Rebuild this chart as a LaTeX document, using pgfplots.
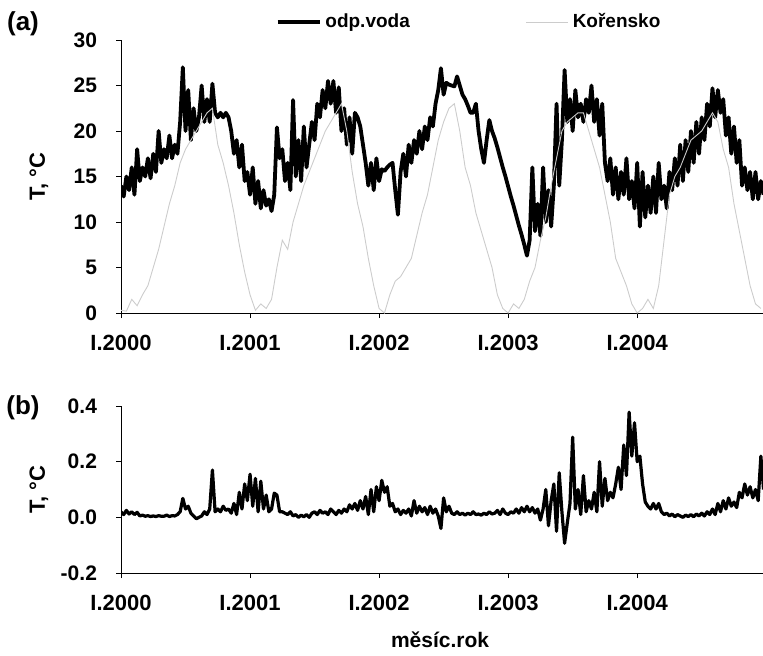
\documentclass[border=0pt]{standalone}
\usepackage{pgfplots}
\pgfplotsset{compat=1.18}
\usepackage{fontspec}
\setmainfont{Liberation Sans}

\pgfplotsset{
  panel/.style={
    scale only axis, width=321pt,
    xmin=0, xmax=59.7,
    axis lines*=left, axis line style={-, black, line width=0.5pt},
    tick align=outside, major tick length=2.5pt,
    tick style={black, line width=0.5pt},
    xtick={0,12,24,36,48},
    xticklabels={I.2000,I.2001,I.2002,I.2003,I.2004},
    tick label style={font=\fontsize{10.5}{12}\selectfont\bfseries},
    xticklabel style={yshift=-5pt, font=\fontsize{11}{12}\selectfont\bfseries},
    /pgf/number format/assume math mode=true,
    yticklabel style={xshift=-6pt},
    every axis y label/.style={at={(axis description cs:-0.1277,0.5)}, rotate=90, anchor=center,
      font=\fontsize{11}{12}\selectfont\bfseries},
  },
}

\begin{document}
\begin{tikzpicture}
\path[use as bounding box] (0,0) rectangle (381.5pt,327.5pt);

% (a) water temperature
\begin{axis}[panel, at={(60.5pt,171pt)}, anchor=south west, height=136.5pt,
  ymin=0, ymax=30, ytick={0,5,10,15,20,25,30},
  ylabel={T, °C},
  legend columns=2,
  legend style={draw=none, fill=none, at={(0.5436,1.066)}, anchor=center,
    font=\fontsize{9.5}{11}\selectfont\bfseries,
    /tikz/column 2/.style={column sep=56pt}},
  legend image code/.code={\draw[#1] (0pt,0pt) -- (21pt,0pt);},
]
\addplot[black, line width=1.9pt, line join=round] table[row sep=\\] {x y\\
0 14\\0.25 12.8\\0.5 15\\0.75 13.5\\1 16\\1.25 13\\1.5 18\\1.75 14.5\\
2 16\\2.25 15\\2.5 17\\2.75 14.8\\3 17.5\\3.25 15.5\\3.5 20\\3.75 16.5\\
4 18\\4.25 17\\4.5 19.5\\4.75 17\\5 18.5\\5.25 17.5\\5.5 21\\5.75 27\\
6 20\\6.25 24.5\\6.5 19\\6.75 22.5\\7 20\\7.25 21.5\\7.5 25\\7.75 21\\
8 23.5\\8.25 21\\8.5 25.2\\8.75 22\\9 21.5\\9.25 22\\9.5 21.5\\9.75 22\\
10 21.5\\10.25 20\\10.5 17.5\\10.75 19\\11 16\\11.25 18.5\\11.5 14.5\\11.75 15.5\\
12 13\\12.25 16\\12.5 12\\12.75 14.5\\13 11.5\\13.25 13.5\\13.5 11.8\\13.75 12.5\\
14 11.2\\14.25 13\\14.5 20.4\\14.75 17\\15 18\\15.25 14.5\\15.5 16.5\\15.75 13.5\\
16 23.4\\16.25 15\\16.5 19\\16.75 14.5\\17 20.5\\17.25 16\\17.5 18.5\\17.75 21\\
18 19\\18.25 23\\18.5 21.5\\18.75 24.5\\19 22.5\\19.25 25.5\\19.5 23\\19.75 25.5\\
20 22\\20.25 24.8\\20.5 20\\20.75 22.5\\21 18.5\\21.25 21.5\\21.5 17.5\\21.75 22\\
22 21.5\\22.25 20.5\\22.5 18.5\\22.75 16.5\\23 14\\23.25 16.5\\23.5 13.5\\23.75 17\\
24 14.5\\24.25 15.8\\24.5 15.6\\24.75 16\\25 16.3\\25.25 16.5\\25.5 13.5\\25.75 10.8\\
26 15.5\\26.25 17.5\\26.5 15\\26.75 18.5\\27 16.5\\27.25 19\\27.5 17.5\\27.75 20\\
28 18\\28.25 20.5\\28.5 19\\28.75 21.5\\29 20.5\\29.25 23\\29.5 24.5\\29.75 26.9\\
30 24\\30.25 25.3\\30.5 25.1\\30.75 25\\31 24.9\\31.25 26\\31.5 25\\31.75 24\\
32 23.5\\32.25 22.8\\32.5 22\\32.75 22\\33 23\\33.25 20\\33.5 18\\33.75 16.5\\
34 19\\34.25 21.2\\34.5 20\\34.75 19.2\\35 18.2\\35.25 17.1\\35.5 16\\35.75 15\\
36 13.9\\36.25 12.8\\36.5 11.8\\36.75 10.7\\37 9.6\\37.25 8.6\\37.5 7.5\\37.75 6.3\\
38 8\\38.25 16\\38.5 9\\38.75 12\\39 8.5\\39.25 16\\39.5 10\\39.75 13.5\\
40 9.5\\40.25 14\\40.5 23\\40.75 14\\41 19\\41.25 26.7\\41.5 21\\41.75 23.5\\
42 20\\42.25 24.5\\42.5 21.5\\42.75 23\\43 21\\43.25 23.5\\43.5 22\\43.75 25\\
44 21\\44.25 23.5\\44.5 19.5\\44.75 23\\45 16.5\\45.25 14.5\\45.5 17\\45.75 13\\
46 16\\46.25 12.5\\46.5 15.5\\46.75 13\\47 17\\47.25 12.5\\47.5 14.5\\47.75 11.5\\
48 16.5\\48.25 9.5\\48.5 15.5\\48.75 10.5\\49 14\\49.25 11\\49.5 15\\49.75 11\\
50 16.5\\50.25 12.5\\50.5 14\\50.75 11.5\\51 15.5\\51.25 13.5\\51.5 17\\51.75 14\\
52 18.5\\52.25 14.5\\52.5 19\\52.75 15.5\\53 20\\53.25 16.5\\53.5 21\\53.75 17.5\\
54 21.5\\54.25 19\\54.5 23\\54.75 20.5\\55 24.7\\55.25 21.5\\55.5 24.5\\55.75 22\\
56 23.5\\56.25 19.5\\56.5 21.5\\56.75 17.5\\57 20.5\\57.25 16.5\\57.5 19\\57.75 14\\
58 16\\58.25 13.5\\58.5 15.5\\58.75 12.5\\59 15.5\\59.25 12.5\\59.5 14.5\\59.75 13\\
};
\addlegendentry{odp.voda}
\addplot[gray!40, line width=0.45pt] table[row sep=\\] {x y\\
0 0.3\\0.5 0.2\\1 1.5\\1.5 0.8\\2 2\\2.5 3\\3 5\\3.5 7\\4 9.5\\4.5 12\\5 14\\5.5 16.5\\
6 18\\6.5 19\\7 20\\7.5 21\\8 22\\8.5 22.5\\9 18.5\\9.5 16.5\\10 14\\10.5 11\\11 7.5\\11.5 4.5\\
12 2\\12.5 0.3\\13 1\\13.5 0.5\\14 1.5\\14.5 5\\15 8\\15.5 7\\16 10\\16.5 12\\17 14\\17.5 15.5\\
18 17\\18.5 18.5\\19 20\\19.5 21\\20 22\\20.5 23\\21 20\\21.5 15.5\\22 12\\22.5 9.5\\23 6\\23.5 3\\
24 0.5\\24.5 0\\25 2\\25.5 3.5\\26 4\\26.5 5\\27 6\\27.5 8.5\\28 11\\28.5 13\\29 16\\29.5 19\\
30 21\\30.5 22.5\\31 23\\31.5 20\\32 16\\32.5 14\\33 11\\33.5 9\\34 7\\34.5 5\\35 2\\35.5 0.5\\
36 0\\36.5 1\\37 0.5\\37.5 1.5\\38 3.5\\38.5 5\\39 8\\39.5 10.5\\40 14\\40.5 17\\41 20\\41.5 21\\
42 21.5\\42.5 22\\43 22\\43.5 20\\44 18\\44.5 16\\45 13\\45.5 10\\46 6\\46.5 4.5\\47 3\\47.5 1\\
48 0\\48.5 0.5\\49 1.5\\49.5 0.5\\50 3\\50.5 8\\51 13\\51.5 15\\52 16\\52.5 17.5\\53 19\\53.5 19.5\\
54 20\\54.5 21\\55 22\\55.5 21\\56 18\\56.5 16\\57 12\\57.5 9\\58 6\\58.5 3\\59 1\\59.5 0.5\\
};
\addlegendentry{Kořensko}
\end{axis}

% (b) difference
\begin{axis}[panel, at={(60.5pt,41pt)}, anchor=south west, height=83.5pt,
  ymin=-0.2, ymax=0.4, ytick={-0.2,0,0.2,0.4},
  yticklabels={-0.2,0.0,0.2,0.4},
  ylabel={T, °C},
  xlabel={měsíc.rok},
  every axis x label/.style={at={(axis description cs:0.497,0)}, anchor=center, yshift=-33.5pt,
    font=\fontsize{10.5}{12}\selectfont\bfseries},
]
\addplot[black, line width=1.6pt, line join=round] table[row sep=\\] {x y\\
0 0.02\\0.25 0.01\\0.5 0.025\\0.75 0.012\\1 0.02\\1.25 0.01\\1.5 0.018\\1.75 0.005\\
2 0.008\\2.25 0.004\\2.5 0.006\\2.75 0.003\\3 0.005\\3.25 0.003\\3.5 0.006\\3.75 0.004\\
4 0.004\\4.25 0.008\\4.5 0.003\\4.75 0.006\\5 0.005\\5.25 0.01\\5.5 0.02\\5.75 0.068\\
6 0.03\\6.25 0.04\\6.5 0.015\\6.75 0.005\\7 -0.005\\7.25 0\\7.5 0.005\\7.75 0.02\\
8 0.01\\8.25 0.03\\8.5 0.17\\8.75 0.02\\9 0.03\\9.25 0.02\\9.5 0.04\\9.75 0.025\\
10 0.03\\10.25 0.015\\10.5 0.05\\10.75 0.01\\11 0.09\\11.25 0.03\\11.5 0.12\\11.75 0.06\\
12 0.155\\12.25 0.04\\12.5 0.14\\12.75 0.02\\13 0.13\\13.25 0.03\\13.5 0.08\\13.75 0.02\\
14 0.03\\14.25 0.087\\14.5 0.08\\14.75 0.02\\15 0.02\\15.25 0.015\\15.5 0.01\\15.75 0.02\\
16 0.005\\16.25 0.01\\16.5 0\\16.75 0.008\\17 0.002\\17.25 0.01\\17.5 0\\17.75 0.015\\
18 0.02\\18.25 0.01\\18.5 0.025\\18.75 0.015\\19 0.02\\19.25 0.01\\19.5 0.03\\19.75 0.02\\
20 0.01\\20.25 0.025\\20.5 0.015\\20.75 0.03\\21 0.02\\21.25 0.045\\21.5 0.03\\21.75 0.05\\
22 0.025\\22.25 0.06\\22.5 0.03\\22.75 0.075\\23 0.01\\23.25 0.1\\23.5 0.02\\23.75 0.11\\
24 0.06\\24.25 0.133\\24.5 0.09\\24.75 0.11\\25 0.04\\25.25 0.05\\25.5 0.02\\25.75 0.03\\
26 0.01\\26.25 0.025\\26.5 0.015\\26.75 0.03\\27 0.005\\27.25 0.06\\27.5 0.015\\27.75 0.04\\
28 0.02\\28.25 0.035\\28.5 0.01\\28.75 0.04\\29 0.015\\29.25 0.03\\29.5 0.005\\29.75 -0.04\\
30 0.07\\30.25 0.02\\30.5 0.04\\30.75 0.015\\31 0.01\\31.25 0.02\\31.5 0.01\\31.75 0.015\\
32 0.008\\32.25 0.015\\32.5 0.01\\32.75 0.02\\33 0.01\\33.25 0.012\\33.5 0.008\\33.75 0.015\\
34 0.01\\34.25 0.02\\34.5 0.012\\34.75 0.015\\35 0.025\\35.25 0.01\\35.5 0.03\\35.75 0.015\\
36 0.01\\36.25 0.02\\36.5 0.015\\36.75 0.03\\37 0.015\\37.25 0.035\\37.5 0.02\\37.75 0.04\\
38 0.02\\38.25 0.035\\38.5 0.015\\38.75 0.03\\39 -0.01\\39.25 0.03\\39.5 0.1\\39.75 -0.03\\
40 0.06\\40.25 0.12\\40.5 -0.05\\40.75 0.16\\41 0.02\\41.25 -0.093\\41.5 -0.02\\41.75 0.05\\
42 0.288\\42.25 0.03\\42.5 0.1\\42.75 0.01\\43 0.15\\43.25 0.02\\43.5 0.06\\43.75 0.03\\
44 0.09\\44.25 0.02\\44.5 0.2\\44.75 0.04\\45 0.14\\45.25 0.06\\45.5 0.09\\45.75 0.07\\
46 0.12\\46.25 0.18\\46.5 0.1\\46.75 0.26\\47 0.15\\47.25 0.378\\47.5 0.22\\47.75 0.34\\
48 0.2\\48.25 0.22\\48.5 0.12\\48.75 0.055\\49 0.04\\49.25 0.03\\49.5 0.05\\49.75 0.03\\
50 0.05\\50.25 0.02\\50.5 0.01\\50.75 0.015\\51 0.005\\51.25 0.012\\51.5 0.002\\51.75 0.01\\
52 0.005\\52.25 0\\52.5 0.008\\52.75 0.003\\53 0.01\\53.25 0.002\\53.5 0.012\\53.75 0.005\\
54 0.015\\54.25 0.005\\54.5 0.02\\54.75 0.01\\55 0.03\\55.25 0.01\\55.5 0.05\\55.75 0.02\\
56 0.06\\56.25 0.03\\56.5 0.07\\56.75 0.04\\57 0.055\\57.25 0.035\\57.5 0.09\\57.75 0.07\\
58 0.12\\58.25 0.08\\58.5 0.11\\58.75 0.07\\59 0.1\\59.25 0.06\\59.5 0.22\\59.75 0.1\\
};
\end{axis}

\node[font=\fontsize{13}{15}\selectfont\bfseries] at (11.5pt,315.5pt) {(a)};
\node[font=\fontsize{13}{15}\selectfont\bfseries] at (11.5pt,123.75pt) {(b)};
\end{tikzpicture}
\end{document}
